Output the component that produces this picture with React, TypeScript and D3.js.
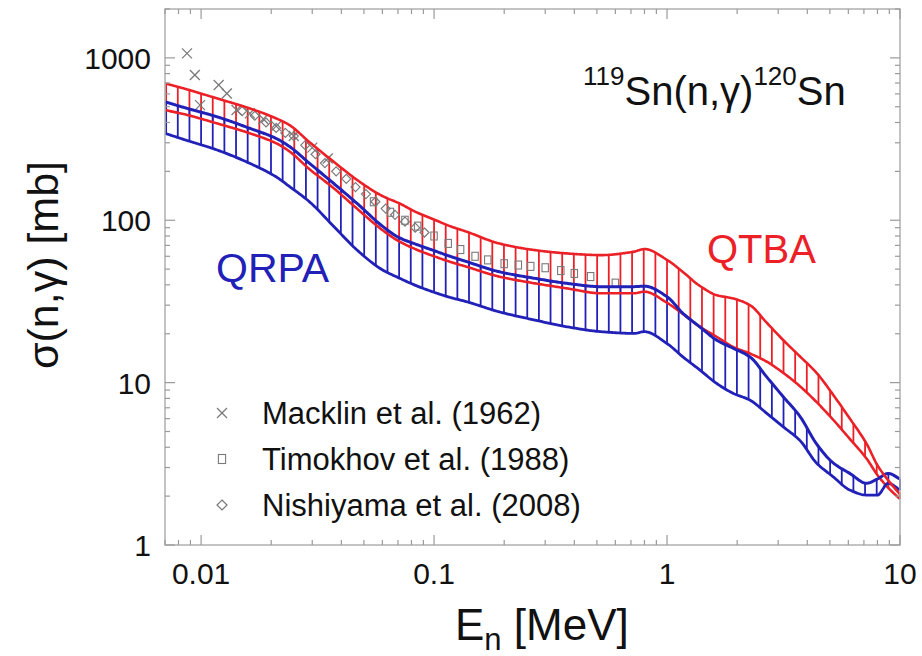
import React from 'react';
import * as d3 from 'd3';

// Energy grid (MeV) shared by the model bands
const energy = [0.007, 0.0084, 0.0117, 0.0162, 0.021, 0.024, 0.029, 0.037, 0.047, 0.06, 0.071, 0.084, 0.1, 0.117, 0.138, 0.19, 0.27, 0.37, 0.52, 0.72, 0.8, 1.0, 1.17, 1.38, 1.63, 1.92, 2.27, 2.67, 3.15, 3.72, 4.38, 5.17, 6.09, 7.19, 8.0, 8.9, 10];
const qtbaUpper = [697, 649, 563, 488, 424, 385, 305, 230, 176, 141, 127, 112, 101, 92, 85, 72, 65.5, 62.5, 61, 64, 66.5, 57, 48, 39.5, 34.6, 33, 30, 23.5, 18.3, 14.5, 11.5, 8.4, 6.0, 4.2, 3.1, 2.5, 2.05];
const qtbaLower = [477, 451, 395, 343, 298, 265, 208, 158, 117, 87, 74, 66, 60, 55.5, 51.7, 45, 40.9, 38.1, 35.5, 35.5, 36.3, 31, 26.5, 22.1, 19.2, 16.6, 15.1, 13.5, 11.5, 9.5, 7.6, 5.9, 4.5, 3.4, 2.7, 2.25, 1.92];
const qrpaUpper = [537, 496, 434, 368, 319, 284, 226, 169, 126, 92, 78, 71, 65, 60, 55.6, 48.2, 43.9, 40.9, 39.0, 39.0, 39.3, 33.8, 26.7, 22.1, 18.3, 16.3, 14.4, 10.9, 8.2, 6.2, 4.2, 3.2, 2.76, 2.4, 2.55, 2.76, 2.55];
const qrpaLower = [343, 315, 271, 224, 185, 161, 131, 92, 65, 49.5, 44, 39.5, 36, 33.5, 31.5, 27.3, 24.3, 22.1, 20.6, 20.1, 20.6, 17.4, 14.4, 12.0, 9.9, 8.6, 7.8, 6.5, 5.35, 4.4, 3.2, 2.63, 2.18, 2.03, 2.03, 2.4, 2.18];

// Experimental data
const macklinE = [0.0087, 0.0094, 0.0099, 0.0119, 0.0129, 0.0142, 0.0162, 0.0185, 0.021, 0.025, 0.03, 0.035];
const macklinV = [1066, 784, 512, 680, 604, 477, 455, 420, 380, 330, 280, 240];
const timokhovE = [0.055, 0.065, 0.075, 0.085, 0.1, 0.115, 0.13, 0.15, 0.17, 0.2, 0.23, 0.26, 0.3, 0.35, 0.4, 0.47, 0.6];
const timokhovV = [130, 112, 100, 92, 80, 72, 66, 60, 57, 54, 53, 52, 51, 49, 47, 45, 41];
const nishiyamaE = [0.015, 0.017, 0.019, 0.021, 0.023, 0.025, 0.028, 0.031, 0.034, 0.038, 0.042, 0.046, 0.051, 0.056, 0.062, 0.068, 0.075, 0.083, 0.091];
const nishiyamaV = [470, 440, 400, 370, 345, 330, 290, 255, 225, 200, 180, 160, 145, 130, 118, 108, 98, 90, 84];

const xTickValues = [0.01, 0.1, 1, 10];
const xTickLabels = ['0.01', '0.1', '1', '10'];
const yTickValues = [1, 10, 100, 1000];
const yTickLabels = ['1', '10', '100', '1000'];
const legendLabels = ['Macklin et al. (1962)', 'Timokhov et al. (1988)', 'Nishiyama et al. (2008)'];

const RED = '#ec2127';
const BLUE = '#2121b8';
const GRAY = '#7a7a7a';
const FONT = 'Liberation Sans, Arial, sans-serif';

// Monotone cubic (Fritsch–Carlson) interpolation in log-log space, for drawing smooth band edges
function makeMonotone(xsIn: number[], ysIn: number[]) {
  const xs = xsIn.map(v => Math.log10(v));
  const ys = ysIn.map(v => Math.log10(v));
  const n = xs.length;
  const dx: number[] = [], sl: number[] = [];
  for (let i = 0; i < n - 1; i++) {
    dx.push(xs[i + 1] - xs[i]);
    sl.push((ys[i + 1] - ys[i]) / dx[i]);
  }
  const m: number[] = new Array(n);
  m[0] = sl[0];
  m[n - 1] = sl[n - 2];
  for (let i = 1; i < n - 1; i++) {
    if (sl[i - 1] * sl[i] <= 0) m[i] = 0;
    else {
      const w1 = 2 * dx[i] + dx[i - 1], w2 = dx[i] + 2 * dx[i - 1];
      m[i] = (w1 + w2) / (w1 / sl[i - 1] + w2 / sl[i]);
    }
  }
  return (e: number) => {
    const le = Math.log10(e);
    let i = 0;
    while (i < n - 2 && le > xs[i + 1]) i++;
    const h = dx[i];
    const t = Math.max(0, Math.min(1, (le - xs[i]) / h));
    const t2 = t * t, t3 = t2 * t;
    const v = (2 * t3 - 3 * t2 + 1) * ys[i] + (t3 - 2 * t2 + t) * h * m[i] + (-2 * t3 + 3 * t2) * ys[i + 1] + (t3 - t2) * h * m[i + 1];
    return Math.pow(10, v);
  };
}

export default function App() {
  const left = 165, right = 900, top = 9, bottom = 545;
  const x = d3.scaleLog().domain([0.007, 10]).range([left, right]);
  const y = d3.scaleLog().domain([1, 2000]).range([bottom, top]);

  const fQtbaU = makeMonotone(energy, qtbaUpper);
  const fQtbaL = makeMonotone(energy, qtbaLower);
  const fQrpaU = makeMonotone(energy, qrpaUpper);
  const fQrpaL = makeMonotone(energy, qrpaLower);

  const samples = d3.range(0, 601).map(i => Math.pow(10, Math.log10(0.007) + (i / 600) * (1 - Math.log10(0.007))));
  const line = d3.line<number>().x(e => x(e)).y(e => 0);
  const mk = (f: (e: number) => number) => d3.line<number>().x(e => x(e)).y(e => y(f(e)))(samples) || '';
  void line;

  const hatchE = d3.range(-43, 21).map(k => Math.pow(10, k * 0.05)).filter(e => e >= 0.007 && e <= 10);

  const xMinor: number[] = [];
  for (let d = -3; d <= 1; d++) for (let m = 1; m <= 9; m++) {
    const v = m * Math.pow(10, d);
    if (v >= 0.007 - 1e-12 && v <= 10 + 1e-9 && !xTickValues.some(t => Math.abs(t - v) < 1e-12)) xMinor.push(v);
  }
  const yMinor: number[] = [];
  for (let d = 0; d <= 3; d++) for (let m = 2; m <= 9; m++) {
    const v = m * Math.pow(10, d);
    if (v <= 2000) yMinor.push(v);
  }

  const tickColor = '#9a9a9a';
  const cross = (cx: number, cy: number, s: number, key: string) => (
    <g key={key} stroke={GRAY} strokeWidth={1.3}>
      <line x1={cx - s} y1={cy - s} x2={cx + s} y2={cy + s} />
      <line x1={cx - s} y1={cy + s} x2={cx + s} y2={cy - s} />
    </g>
  );
  const square = (cx: number, cy: number, s: number, key: string) => (
    <rect key={key} x={cx - s * 0.8} y={cy - s} width={s * 1.6} height={s * 2} fill="none" stroke={GRAY} strokeWidth={1.1} />
  );
  const diamond = (cx: number, cy: number, s: number, key: string) => (
    <path key={key} d={`M${cx},${cy - s}L${cx + s},${cy}L${cx},${cy + s}L${cx - s},${cy}Z`} fill="none" stroke={GRAY} strokeWidth={1.2} />
  );

  return (
    <svg width={922} height={656} style={{ position: 'absolute', left: 0, top: 0, background: '#fff' }} fontFamily={FONT}>
      <rect x={0} y={0} width={922} height={656} fill="#fff" />
      {/* QTBA hatch */}
      <g stroke={RED} strokeWidth={1.8}>
        {hatchE.map((e, i) => (
          <line key={'rh' + i} x1={x(e)} x2={x(e)} y1={y(fQtbaU(e))} y2={y(fQtbaL(e))} />
        ))}
      </g>
      {/* QRPA hatch */}
      <g stroke={BLUE} strokeWidth={1.8}>
        {hatchE.map((e, i) => (
          <line key={'bh' + i} x1={x(e)} x2={x(e)} y1={y(fQrpaU(e))} y2={y(fQrpaL(e))} />
        ))}
      </g>
      {/* experimental data */}
      {nishiyamaE.map((e, i) => diamond(x(e), y(nishiyamaV[i]), 4.5, 'n' + i))}
      {timokhovE.map((e, i) => square(x(e), y(timokhovV[i]), 4, 't' + i))}
      {macklinE.map((e, i) => cross(x(e), y(macklinV[i]), 5, 'm' + i))}
      {/* band edges */}
      <path d={mk(fQtbaL)} fill="none" stroke={RED} strokeWidth={2.6} strokeLinejoin="round" />
      <path d={mk(fQrpaL)} fill="none" stroke={BLUE} strokeWidth={2.8} strokeLinejoin="round" />
      <path d={mk(fQrpaU)} fill="none" stroke={BLUE} strokeWidth={3} strokeLinejoin="round" />
      <path d={mk(fQtbaU)} fill="none" stroke={RED} strokeWidth={2.6} strokeLinejoin="round" />

      {/* frame */}
      <rect x={left} y={top} width={right - left} height={bottom - top} fill="none" stroke="#b0b0b0" strokeWidth={1.5} />
      <g stroke={tickColor} strokeWidth={1.2}>
        {xTickValues.map((v, i) => (
          <g key={'xt' + i}>
            <line x1={x(v)} x2={x(v)} y1={bottom} y2={bottom - 10} />
            <line x1={x(v)} x2={x(v)} y1={top} y2={top + 10} />
          </g>
        ))}
        {xMinor.map((v, i) => (
          <g key={'xm' + i}>
            <line x1={x(v)} x2={x(v)} y1={bottom} y2={bottom - 5} />
            <line x1={x(v)} x2={x(v)} y1={top} y2={top + 5} />
          </g>
        ))}
        {yTickValues.map((v, i) => (
          <g key={'yt' + i}>
            <line x1={left} x2={left + 10} y1={y(v)} y2={y(v)} />
            <line x1={right} x2={right - 10} y1={y(v)} y2={y(v)} />
          </g>
        ))}
        {yMinor.map((v, i) => (
          <g key={'ym' + i}>
            <line x1={left} x2={left + 5} y1={y(v)} y2={y(v)} />
            <line x1={right} x2={right - 5} y1={y(v)} y2={y(v)} />
          </g>
        ))}
      </g>
      {/* tick labels */}
      <g fontSize={30} fill="#111">
        {xTickValues.map((v, i) => (
          <text key={'xl' + i} x={x(v)} y={584} textAnchor="middle">{xTickLabels[i]}</text>
        ))}
        {yTickValues.map((v, i) => (
          <text key={'yl' + i} x={151} y={y(v) + 11} textAnchor="end">{yTickLabels[i]}</text>
        ))}
      </g>
      {/* axis titles */}
      <text x={455} y={640} fontSize={44} fill="#111">E<tspan fontSize={31} dy={10}>n</tspan><tspan dy={-10}> [MeV]</tspan></text>
      <text transform="translate(58,265) rotate(-90)" textAnchor="middle" fontSize={43} fill="#111">σ(n,γ) [mb]</text>

      {/* annotations */}
      <text x={583} y={105} fontSize={40} fill="#111"><tspan fontSize={26} dy={-20}>119</tspan><tspan dy={20}>Sn(n,γ)</tspan><tspan fontSize={26} dy={-20}>120</tspan><tspan dy={20}>Sn</tspan></text>
      <text x={707} y={263} fontSize={40} fill={RED}>QTBA</text>
      <text x={216} y={282} fontSize={41} fill={BLUE}>QRPA</text>

      {/* legend */}
      {cross(222, 413, 5, 'lg0')}
      {square(222, 459, 4.5, 'lg1')}
      {diamond(222, 505, 5, 'lg2')}
      <g fontSize={31} fill="#111">
        {legendLabels.map((l, i) => (
          <text key={'lg' + i} x={262} y={424 + i * 46}>{l}</text>
        ))}
      </g>
    </svg>
  );
}
